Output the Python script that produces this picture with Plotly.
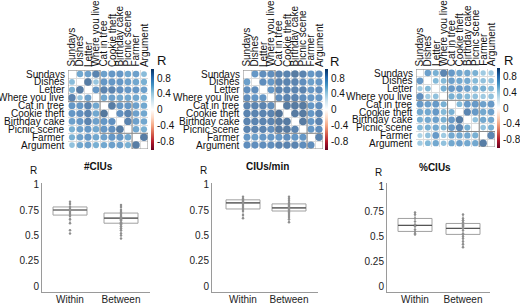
import plotly.graph_objects as go

W, H = 520, 305
FONT = "Liberation Sans, Arial, sans-serif"

tasks = ["Sundays", "Dishes", "Letter", "Where you live", "Cat in tree",
         "Cookie theft", "Birthday cake", "Picnic scene", "Farmer", "Argument"]
groups = [(1, 4), (5, 8), (9, 10)]
N = None

r_cius = [
    [N, 0.68, 0.72, 0.88, 0.72, 0.78, 0.78, 0.68, 0.72, 0.55],
    [0.55, N, 0.92, 0.50, 0.78, 0.78, 0.78, 0.72, 0.68, 0.62],
    [0.62, 0.92, N, 0.78, 0.88, 0.88, 0.82, 0.78, 0.78, 0.72],
    [0.88, 0.50, 0.72, N, 0.68, 0.72, 0.68, 0.68, 0.68, 0.62],
    [0.78, 0.78, 0.88, 0.68, N, 0.92, 0.78, 0.78, 0.72, 0.68],
    [0.78, 0.82, 0.88, 0.68, 0.95, N, 0.82, 0.88, 0.72, 0.68],
    [0.72, 0.78, 0.88, 0.72, 0.78, 0.82, N, 0.88, 0.72, 0.68],
    [0.62, 0.72, 0.78, 0.68, 0.78, 0.82, 0.92, N, 0.68, 0.62],
    [0.62, 0.72, 0.78, 0.68, 0.72, 0.78, 0.78, 0.68, N, 0.92],
    [0.52, 0.68, 0.72, 0.62, 0.68, 0.72, 0.72, 0.62, 0.92, N],
]
r_cius_min = [
    [N, 0.78, 0.83, 0.83, 0.88, 0.88, 0.93, 0.88, 0.78, 0.83],
    [0.73, N, 0.83, 0.78, 0.88, 0.88, 0.88, 0.83, 0.73, 0.78],
    [0.83, 0.83, N, 0.78, 0.88, 0.88, 0.88, 0.88, 0.78, 0.83],
    [0.83, 0.78, 0.78, N, 0.83, 0.88, 0.88, 0.83, 0.78, 0.78],
    [0.88, 0.88, 0.88, 0.83, N, 0.93, 0.93, 0.93, 0.78, 0.83],
    [0.88, 0.88, 0.88, 0.88, 0.97, N, 0.93, 0.93, 0.78, 0.88],
    [0.88, 0.88, 0.88, 0.88, 0.93, 0.93, N, 0.93, 0.78, 0.88],
    [0.88, 0.88, 0.88, 0.83, 0.93, 0.93, 0.88, N, 0.78, 0.83],
    [0.78, 0.73, 0.78, 0.78, 0.78, 0.83, 0.78, 0.78, N, 0.88],
    [0.83, 0.83, 0.83, 0.83, 0.88, 0.88, 0.88, 0.83, 0.83, N],
]
r_pct_cius = [
    [N, 0.72, 0.62, 0.87, 0.77, 0.67, 0.67, 0.62, 0.47, 0.47],
    [0.77, N, 0.57, 0.57, 0.72, 0.67, 0.67, 0.57, 0.52, 0.52],
    [0.47, 0.57, N, 0.62, 0.77, 0.77, 0.72, 0.62, 0.62, 0.57],
    [0.82, 0.47, 0.52, N, 0.62, 0.62, 0.57, 0.52, 0.47, 0.52],
    [0.77, 0.72, 0.77, 0.62, N, 0.57, 0.77, 0.77, 0.72, 0.77],
    [0.67, 0.67, 0.77, 0.57, 0.62, N, 0.87, 0.77, 0.67, 0.72],
    [0.62, 0.67, 0.72, 0.62, 0.77, 0.92, N, 0.52, 0.67, 0.67],
    [0.57, 0.62, 0.67, 0.57, 0.77, 0.87, 0.62, N, 0.52, 0.62],
    [0.42, 0.52, 0.77, 0.47, 0.67, 0.67, 0.67, 0.62, N, 0.87],
    [0.47, 0.57, 0.67, 0.52, 0.67, 0.72, 0.67, 0.67, 0.92, N],
]
cbar_ticks = [0.8, 0.4, 0, -0.4, -0.8]
cbar_text = ["0.8", "0.4", "0", "-0.4", "-0.8"]

box_titles = ["#CIUs", "CIUs/min", "%CIUs"]
box_cats = ["Within", "Between"]
# [lowerfence, q1, median, q3, upperfence] for Within, Between
box_stats = [
    [[0.62, 0.70, 0.75, 0.78, 0.83], [0.52, 0.62, 0.67, 0.72, 0.80]],
    [[0.67, 0.76, 0.82, 0.85, 0.88], [0.63, 0.74, 0.77, 0.81, 0.88]],
    [[0.52, 0.55, 0.61, 0.68, 0.74], [0.39, 0.52, 0.58, 0.63, 0.72]],
]
box_points = [
    [[0.83, 0.81, 0.78, 0.76, 0.75, 0.74, 0.72, 0.70, 0.69, 0.66, 0.62, 0.55, 0.52],
     [0.80, 0.78, 0.75, 0.73, 0.72, 0.71, 0.69, 0.68, 0.67, 0.66, 0.65, 0.63, 0.62,
      0.61, 0.59, 0.57, 0.55, 0.52, 0.50, 0.47]],
    [[0.88, 0.86, 0.85, 0.84, 0.83, 0.82, 0.82, 0.80, 0.78, 0.76, 0.74, 0.70, 0.67],
     [0.88, 0.86, 0.84, 0.82, 0.81, 0.80, 0.79, 0.78, 0.77, 0.76, 0.75, 0.74, 0.73,
      0.72, 0.70, 0.68, 0.66, 0.63]],
    [[0.74, 0.72, 0.68, 0.65, 0.62, 0.60, 0.57, 0.55, 0.53, 0.52],
     [0.72, 0.68, 0.66, 0.66, 0.64, 0.62, 0.61, 0.60, 0.58, 0.56, 0.53, 0.52, 0.50,
      0.48, 0.45, 0.42, 0.39]],
]

colorscale = [[0.0, "#67001F"], [0.1, "#B2182B"], [0.2, "#D6604D"], [0.3, "#F4A582"],
              [0.4, "#FDDBC7"], [0.5, "#FFFFFF"], [0.6, "#D1E5F0"], [0.7, "#92C5DE"],
              [0.8, "#4393C3"], [0.9, "#2166AC"], [1.0, "#053061"]]


def px(x):
    return x / W


def py(y):
    return 1 - y / H


fig = go.Figure()
annotations = []
shapes = []

# ---------- correlation plots ----------
corr_panels = [
    dict(m=r_cius, left=68, top=68, size=80, cb=151, R=(161, 58)),
    dict(m=r_cius_min, left=243, top=68, size=80, cb=325, R=(334, 59)),
    dict(m=r_pct_cius, left=416, top=67, size=79, cb=497, R=(508, 58)),
]
CB_W = 3
n = len(tasks)
for k, p in enumerate(corr_panels):
    ax = k + 1
    xs, ys, vals = [], [], []
    for i in range(n):
        for j in range(n):
            v = p["m"][i][j]
            if v is None:
                continue
            xs.append(j + 1)
            ys.append(i + 1)
            vals.append(v)
    cell = p["size"] / n
    sizes = [cell * 0.98 * (abs(v) ** 0.5) for v in vals]
    fig.add_trace(go.Scatter(
        x=xs, y=ys, mode="markers",
        xaxis=f"x{ax}", yaxis=f"y{ax}",
        marker=dict(size=sizes, color=vals, colorscale=colorscale, cmin=-1, cmax=1,
                    line=dict(width=0), showscale=True,
                    colorbar=dict(x=px(p["cb"]), xanchor="left",
                                  y=py(p["top"] + p["size"] / 2), yanchor="middle",
                                  len=(p["size"] + 2) / H, lenmode="fraction",
                                  thickness=CB_W, thicknessmode="pixels",
                                  xpad=0, ypad=0, outlinewidth=0,
                                  tickvals=cbar_ticks, ticks="", showticklabels=False)),
        hoverinfo="skip", showlegend=False))
    dom_x = [px(p["left"]), px(p["left"] + p["size"])]
    dom_y = [py(p["top"] + p["size"]), py(p["top"])]
    grid = [i + 0.5 for i in range(n + 1)]
    fig.layout[f"xaxis{ax}"] = dict(domain=dom_x, range=[0.5, n + 0.5], anchor=f"y{ax}",
                                    tickvals=grid, showticklabels=False, showgrid=True,
                                    gridcolor="#dcdcdc", gridwidth=1, zeroline=False,
                                    showline=False, fixedrange=True)
    fig.layout[f"yaxis{ax}"] = dict(domain=dom_y, range=[n + 0.5, 0.5], anchor=f"x{ax}",
                                    tickvals=grid, showticklabels=False, showgrid=True,
                                    gridcolor="#dcdcdc", gridwidth=1, zeroline=False,
                                    showline=False, fixedrange=True)
    for (a, b) in groups:
        shapes.append(dict(type="rect", xref=f"x{ax}", yref=f"y{ax}",
                           x0=a - 0.5, x1=b + 0.5, y0=a - 0.5, y1=b + 0.5,
                           line=dict(color="#8a8a8a", width=1), fillcolor="rgba(0,0,0,0)"))
    for i, t in enumerate(tasks):
        annotations.append(dict(text=t, xref="paper", yref="paper",
                                x=px(p["left"] - 1), y=py(p["top"] + cell * (i + 0.5)),
                                xanchor="right", yanchor="middle", showarrow=False,
                                font=dict(size=10, family=FONT, color="#111")))
        annotations.append(dict(text=t, xref="paper", yref="paper", textangle=-90,
                                x=px(p["left"] + cell * (i + 0.5)), y=py(p["top"] - 1),
                                xanchor="center", yanchor="bottom", showarrow=False,
                                font=dict(size=10, family=FONT, color="#111")))
    # colorbar tick labels
    for tv, tt in zip(cbar_ticks, cbar_text):
        ypix = p["top"] + p["size"] / 2 - tv * p["size"] / 2
        annotations.append(dict(text=tt, xref="paper", yref="paper",
                                x=px(p["cb"] + CB_W + 1), y=py(ypix),
                                xanchor="left", yanchor="middle", showarrow=False,
                                font=dict(size=10, family=FONT, color="#111")))
    annotations.append(dict(text="R", xref="paper", yref="paper",
                            x=px(p["R"][0]), y=py(p["R"][1]), xanchor="center",
                            yanchor="middle", showarrow=False,
                            font=dict(size=13, family=FONT, color="#111")))

# ---------- box plots ----------
box_panels = [
    dict(left=42, right=150, c0=70, c1=121, y0=287, y1=184, title=(98, 166), R=(33, 170)),
    dict(left=212, right=318, c0=243, c1=289, y0=287, y1=184, title=(267, 166), R=(203, 170)),
    dict(left=387, right=490, c0=415, c1=463, y0=287, y1=186, title=(435, 167), R=(378, 172)),
]
axis_top, axis_bot = 182, 293
for k, p in enumerate(box_panels):
    ax = k + 4
    unit = p["c1"] - p["c0"]
    xr = [(p["left"] - p["c0"]) / unit, (p["right"] - p["c0"]) / unit]
    yunit = p["y0"] - p["y1"]
    yr = [(p["y0"] - axis_bot) / yunit, (p["y0"] - axis_top) / yunit]
    for c, cat in enumerate(box_cats):
        lf, q1, med, q3, uf = box_stats[k][c]
        fig.add_trace(go.Box(
            x=[cat], lowerfence=[lf], q1=[q1], median=[med], q3=[q3], upperfence=[uf],
            xaxis=f"x{ax}", yaxis=f"y{ax}", width=34 / unit, whiskerwidth=0,
            line=dict(color="#a0a0a0", width=1), fillcolor="white",
            boxpoints=False, hoverinfo="skip", showlegend=False))
        # darker median line: a zero-height box at the median
        fig.add_trace(go.Box(
            x=[cat], lowerfence=[med], q1=[med], median=[med], q3=[med], upperfence=[med],
            xaxis=f"x{ax}", yaxis=f"y{ax}", width=34 / unit, whiskerwidth=0,
            line=dict(color="#555555", width=1.2), fillcolor="rgba(0,0,0,0)",
            boxpoints=False, hoverinfo="skip", showlegend=False))
        fig.add_trace(go.Scatter(
            x=[cat] * len(box_points[k][c]), y=box_points[k][c], mode="markers",
            xaxis=f"x{ax}", yaxis=f"y{ax}",
            marker=dict(size=2.5, color="#8f8f8f"), hoverinfo="skip", showlegend=False))
    fig.layout[f"xaxis{ax}"] = dict(domain=[px(p["left"]), px(p["right"])], range=xr,
                                    anchor=f"y{ax}", type="category",
                                    categoryorder="array", categoryarray=box_cats,
                                    showline=True, linecolor="#9a9a9a", linewidth=1,
                                    showgrid=False, zeroline=False, ticks="",
                                    ticklabelstandoff=-2,
                                    tickfont=dict(size=10, family=FONT, color="#222"),
                                    fixedrange=True)
    fig.layout[f"yaxis{ax}"] = dict(domain=[py(axis_bot), py(axis_top)], range=yr,
                                    anchor=f"x{ax}", tickvals=[0, 0.25, 0.5, 0.75, 1],
                                    ticktext=["0", "0.25", "0.5", "0.75", "1"],
                                    showline=True, linecolor="#9a9a9a", linewidth=1,
                                    showgrid=False, zeroline=False, ticks="",
                                    tickfont=dict(size=10, family=FONT, color="#222"),
                                    fixedrange=True)
    annotations.append(dict(text="<b>" + box_titles[k] + "</b>", xref="paper", yref="paper",
                            x=px(p["title"][0]), y=py(p["title"][1]), xanchor="center",
                            yanchor="middle", showarrow=False,
                            font=dict(size=10, family=FONT, color="#111")))
    annotations.append(dict(text="R", xref="paper", yref="paper",
                            x=px(p["R"][0]), y=py(p["R"][1]), xanchor="center",
                            yanchor="middle", showarrow=False,
                            font=dict(size=10, family=FONT, color="#111")))

fig.update_layout(width=W, height=H, margin=dict(l=0, r=0, t=0, b=0),
                  paper_bgcolor="white", plot_bgcolor="white",
                  annotations=annotations, shapes=shapes,
                  font=dict(family=FONT), boxmode="overlay")
fig.write_html("out.html", config={"displayModeBar": False},
               post_script="document.body.style.margin='0';document.body.style.padding='0';")
